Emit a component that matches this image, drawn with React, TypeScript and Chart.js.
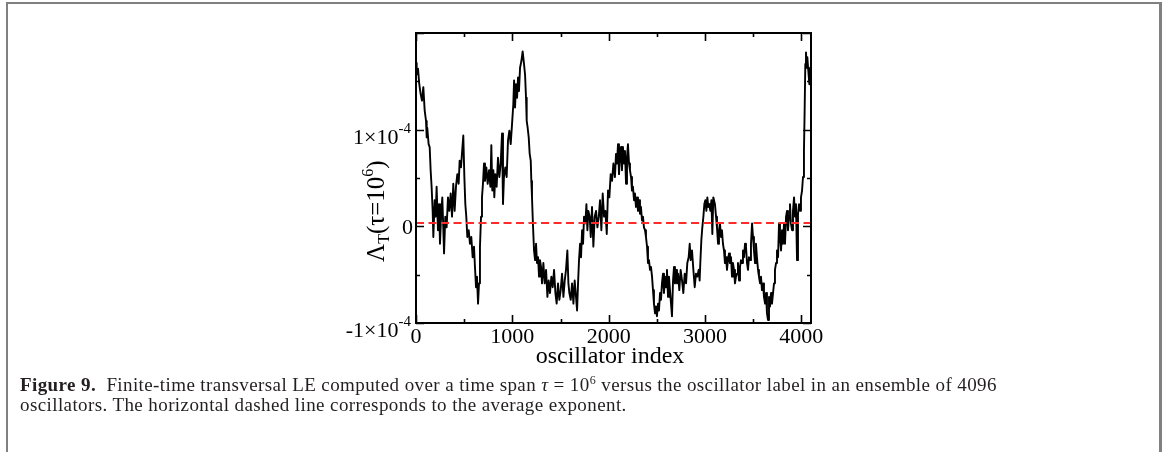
import React, { useEffect, useRef } from "react";
import { Chart, registerables } from "chart.js";

Chart.register(...registerables);

// ---- data ----
// oscillator label (x)
const oscillatorIndex: number[] = [
  0, 7, 21, 34, 48, 62, 76, 90, 104, 111, 117, 131, 142, 152, 162, 173, 180, 194, 204, 214,
  228, 239, 249, 263, 273, 284, 291, 304, 318, 332, 346, 360, 374, 387, 401, 415, 429, 443, 453, 467,
  477, 491, 502, 512, 522, 533, 547, 560, 574, 588, 602, 612, 623, 633, 644, 654, 664, 675, 685, 695,
  706, 716, 730, 744, 758, 772, 782, 792, 803, 813, 823, 837, 851, 865, 879, 893, 903, 913, 927, 941,
  955, 969, 983, 997, 1010,
  1018, 1028, 1038, 1049, 1059, 1069, 1080, 1094, 1107, 1121, 1132, 1142, 1149, 1159, 1170, 1180, 1191, 1197, 1204, 1211,
  1218, 1225, 1236, 1246, 1256, 1267, 1277, 1287, 1298, 1308, 1322, 1336, 1350, 1364, 1377, 1391, 1405, 1419, 1433, 1447,
  1460, 1474, 1488, 1502, 1516, 1530, 1544, 1557, 1571, 1582, 1592, 1606, 1620, 1634, 1647, 1661, 1672, 1682, 1692, 1703,
  1713, 1724, 1734, 1744, 1758, 1769, 1779, 1789, 1803, 1814, 1827, 1841, 1855, 1869, 1883, 1897, 1910, 1924, 1938, 1952,
  1966, 1980, 1993, 2007, 2021, 2035, 2049,
  2065, 2076, 2086, 2097, 2107, 2117, 2128, 2138, 2148, 2159, 2169, 2180, 2190, 2200, 2211, 2221, 2232, 2242, 2252, 2263,
  2273, 2283, 2294, 2304, 2315, 2325, 2335, 2346, 2356, 2366, 2377, 2387, 2398, 2408, 2418, 2429, 2439, 2450, 2460, 2470,
  2481, 2491, 2501, 2512, 2522, 2533, 2543, 2553, 2564, 2574, 2585, 2595, 2605, 2616, 2626, 2636, 2647, 2657, 2668, 2678,
  2688, 2699, 2709, 2720, 2733, 2747, 2761, 2775, 2789, 2803, 2816, 2830, 2841, 2851, 2865, 2879, 2893, 2906, 2920, 2934,
  2944, 2951, 2962, 2972, 2983, 2993, 3003, 3014, 3024, 3034, 3045, 3055, 3066, 3076, 3086,
  3103, 3114, 3124, 3135, 3145, 3155, 3166, 3176, 3186, 3197, 3207, 3218, 3228, 3238, 3249, 3259, 3270, 3280, 3290, 3301,
  3311, 3321, 3332, 3342, 3353, 3363, 3373, 3384, 3394, 3405, 3415, 3425, 3436, 3446, 3456, 3467, 3477, 3488, 3498, 3508,
  3519, 3529, 3539, 3550, 3560, 3571, 3581, 3591, 3602, 3612, 3623, 3633, 3643, 3654, 3664, 3674, 3685, 3695, 3706, 3716,
  3726, 3737, 3747, 3758, 3768, 3778, 3789, 3799, 3809, 3820, 3830, 3841, 3851, 3861, 3872, 3882, 3892, 3903, 3913, 3924,
  3934, 3944, 3955, 3965, 3976, 3986, 3996, 4007, 4017, 4027, 4034, 4041, 4048, 4055, 4062, 4072, 4083, 4090, 4095,
];

// finite-time transversal LE, in units of 1e-5
const lyapunovE5: number[] = [
  16.9, 15.7, 16.3, 14.7, 13.7, 13.0, 14.4, 12.0, 10.9, 9.2, 10.2, 8.5, 8.2, 5.8, 4.1, 1.6, -1.1, 2.7, 1.0, 4.1,
  -0.4, 2.3, -1.8, 1.6, 3.0, -0.4, -2.8, 1.0, -0.1, 3.0, 1.6, 3.4, 1.0, 4.4, 1.6, 4.1, 5.4, 4.4, 6.8, 6.1,
  7.5, 9.4, 5.1, 2.3, 1.0, -1.1, -0.4, -1.8, -1.1, -3.2, -2.1, -4.2, -6.3, -5.2, -8.0, -5.9, -2.1, 1.0, 3.0, 4.4,
  6.5, 4.7, 6.1, 4.4, 5.8, 4.1, 8.4, 3.7, 5.8, 3.0, 5.4, 4.1, 7.1, 5.1, 6.5, 9.6, 2.3, 5.1, 6.1, 5.1,
  8.9, 9.9, 8.5, 10.6, 12.6,
  15.1, 12.3, 14.7, 13.3, 15.4, 14.0, 16.4, 17.1, 18.1, 16.8, 15.7, 13.3, 10.9, 10.2, 9.2, 7.5, 6.8, 4.7, 3.0, 1.0,
  -0.8, -2.5, -3.5, -1.8, -3.8, -3.2, -5.2, -3.5, -4.2, -5.9, -3.8, -5.9, -4.5, -7.3, -5.6, -6.9, -5.2, -6.3, -4.5, -6.9,
  -8.0, -5.9, -7.6, -6.6, -4.9, -7.3, -5.6, -4.5, -2.5, -5.9, -6.9, -7.6, -5.9, -8.0, -5.6, -7.3, -8.7, -5.9, -3.5, -1.8,
  -3.2, -0.4, -1.8, 1.0, 0.3, 2.3, -0.4, 1.6, 1.0, -1.1, 2.0, -2.1, 1.0, 1.6, -0.1, 1.0, 2.7, -0.4, 3.4, 1.0,
  1.6, -0.8, 3.7, 3.0, 5.4, 4.7, 6.5,
  5.1, 7.5, 6.5, 8.5, 5.4, 7.1, 8.2, 5.8, 8.2, 6.5, 7.8, 4.4, 7.1, 8.5, 6.5, 5.8, 5.1, 3.7, 4.1, 2.7,
  3.4, 2.0, 3.0, 1.6, 2.7, 1.3, 2.0, 0.6, 1.0, -0.1, -0.4, -1.1, -2.1, -3.8, -3.5, -4.5, -4.2, -5.2, -6.6, -8.0,
  -9.0, -8.3, -9.3, -8.0, -8.7, -6.9, -7.6, -5.9, -4.9, -6.9, -5.2, -6.3, -4.5, -7.3, -5.2, -6.6, -8.0, -9.3, -5.6, -4.2,
  -5.9, -4.5, -5.9, -4.9, -6.6, -4.5, -5.6, -6.9, -4.9, -5.9, -3.8, -3.2, -1.8, -3.5, -2.5, -4.5, -6.3, -4.9, -5.2, -4.5,
  -5.6, -3.8, -1.4, -0.1, 1.0, 2.3, 2.7, 1.6, 3.0, 2.0, 2.3, 1.6, 2.7, -0.8, 3.0,
  2.3, 1.0, -0.1, -1.8, -0.4, 0.3, -1.1, -0.4, -1.8, -2.5, -3.8, -3.2, -4.5, -3.5, -2.8, -3.8, -3.2, -5.2, -3.8, -4.5,
  -5.9, -5.2, -4.9, -3.8, -5.6, -4.2, -3.5, -3.8, -2.5, -3.2, -1.8, -2.1, -3.8, -4.5, -3.2, -3.5, -1.8, 0.3, -1.1, -2.5,
  -3.8, -1.8, -3.2, -4.5, -5.2, -5.9, -5.2, -6.6, -5.9, -7.3, -8.0, -6.9, -9.0, -9.7, -7.3, -8.3, -6.9, -8.0, -6.9, -5.9,
  -4.5, -3.8, -2.5, -3.2, 0.3, -1.1, -2.5, -0.4, -1.8, 0.3, -1.8, 1.0, 1.6, -0.4, 1.0, 2.3, 0.3, -0.4, 1.6, 3.0,
  1.0, 2.3, -3.5, 1.3, 2.3, 1.6, 3.0, 3.7, 5.1, 7.8, 12.0, 16.8, 18.0, 16.4, 17.5, 16.1, 14.7, 16.4, 15.4,
];

// average exponent (dashed line)
const averageExponent: number[] = [3.4e-6];

// axis ranges and ticks
const xRange: number[] = [0, 4100];
const yRange: number[] = [-1e-4, 2e-4];
const xMajorTicks: number[] = [0, 1000, 2000, 3000, 4000];
const xTickLabels: string[] = ["0", "1000", "2000", "3000", "4000"];
const xMinorTicks: number[] = [500, 1500, 2500, 3500];
const yMajorTicks: number[] = [-1e-4, 0, 1e-4, 2e-4];
const yLabelValues: number[] = [-1e-4, 0, 1e-4];
const yLabelMantissa: string[] = ["-1×10", "0", "1×10"];
const yLabelExponent: string[] = ["-4", "", "-4"];
const yMinorTicks: number[] = [-5e-5, 5e-5, 1.5e-4];

const SERIF = '"Liberation Serif", "Times New Roman", serif';

const frameTicksPlugin = {
  id: "frameTicks",
  afterDatasetsDraw(chart: any) {
    const { ctx, chartArea: a } = chart;
    const xs = chart.scales.x;
    const ys = chart.scales.y;
    ctx.save();
    // frame
    ctx.strokeStyle = "#000";
    ctx.lineWidth = 2;
    ctx.strokeRect(a.left, a.top, a.right - a.left, a.bottom - a.top);
    // ticks (inward, mirrored)
    ctx.lineWidth = 1.6;
    ctx.beginPath();
    const xt = (v: number, len: number) => {
      const p = Math.round(xs.getPixelForValue(v)) + 0.5;
      ctx.moveTo(p, a.bottom);
      ctx.lineTo(p, a.bottom - len);
      ctx.moveTo(p, a.top);
      ctx.lineTo(p, a.top + len);
    };
    const yt = (v: number, len: number) => {
      const p = Math.round(ys.getPixelForValue(v)) + 0.5;
      ctx.moveTo(a.left, p);
      ctx.lineTo(a.left + len, p);
      ctx.moveTo(a.right, p);
      ctx.lineTo(a.right - len, p);
    };
    xMajorTicks.forEach((v) => xt(v, 8));
    xMinorTicks.forEach((v) => xt(v, 4));
    yMajorTicks.forEach((v) => yt(v, 8));
    yMinorTicks.forEach((v) => yt(v, 4));
    ctx.stroke();

    // x tick labels
    ctx.fillStyle = "#000";
    ctx.font = `22px ${SERIF}`;
    ctx.textAlign = "center";
    ctx.textBaseline = "alphabetic";
    xMajorTicks.forEach((v, i) => {
      ctx.fillText(xTickLabels[i], xs.getPixelForValue(v), a.bottom + 20);
    });

    // y tick labels
    const right = a.left - 5;
    yLabelValues.forEach((v, i) => {
      const py = ys.getPixelForValue(v);
      const exp = yLabelExponent[i];
      ctx.textAlign = "right";
      if (exp) {
        ctx.font = `15px ${SERIF}`;
        const ew = ctx.measureText(exp).width;
        const base = py + 14;
        ctx.fillText(exp, right, base - 11);
        ctx.font = `22px ${SERIF}`;
        ctx.fillText(yLabelMantissa[i], right - ew, base);
      } else {
        ctx.font = `22px ${SERIF}`;
        ctx.fillText(yLabelMantissa[i], right + 2, py + 8);
      }
    });

    // x axis title
    ctx.font = `24px ${SERIF}`;
    ctx.textAlign = "center";
    ctx.fillText("oscillator index", 610, 363);

    // y axis title: Λ_T(τ=10^6), rotated
    ctx.translate(384, 262);
    ctx.rotate(-Math.PI / 2);
    ctx.textAlign = "left";
    let cx = 0;
    const part = (t: string, size: number, dy: number) => {
      ctx.font = `${size}px ${SERIF}`;
      ctx.fillText(t, cx, dy);
      cx += ctx.measureText(t).width;
    };
    part("Λ", 25, 0);
    part("T", 16, 5);
    part("(τ=10", 25, 0);
    part("6", 16, -11);
    part(")", 25, 0);
    ctx.restore();
  },
};

export default function App() {
  const canvasRef = useRef<HTMLCanvasElement | null>(null);

  useEffect(() => {
    const canvas = canvasRef.current;
    if (!canvas) return;
    const points = oscillatorIndex.map((x, i) => ({ x, y: lyapunovE5[i] * 1e-5 }));
    const avgLine = [
      { x: xRange[0], y: averageExponent[0] },
      { x: xRange[1], y: averageExponent[0] },
    ];
    const chart = new Chart(canvas, {
      type: "line",
      data: {
        datasets: [
          {
            label: "average",
            data: avgLine,
            borderColor: "#ff2a2a",
            borderWidth: 2,
            borderDash: [8, 4.5],
            pointRadius: 0,
            order: 0,
          },
          {
            label: "Lambda_T",
            data: points,
            borderColor: "#000",
            borderWidth: 1.9,
            borderJoinStyle: "round",
            pointRadius: 0,
            tension: 0,
            order: 1,
          },
        ],
      },
      options: {
        animation: false,
        responsive: false,
        devicePixelRatio: 1,
        events: [],
        layout: { padding: { left: 416, top: 33, right: 354, bottom: 129 } },
        plugins: { legend: { display: false }, tooltip: { enabled: false } },
        scales: {
          x: { type: "linear", min: xRange[0], max: xRange[1], display: false },
          y: { type: "linear", min: yRange[0], max: yRange[1], display: false },
        },
      },
      plugins: [frameTicksPlugin],
    } as any);
    return () => chart.destroy();
  }, []);

  return (
    <div
      style={{
        position: "fixed",
        left: 0,
        top: 0,
        width: 1165,
        height: 452,
        background: "#fff",
        overflow: "hidden",
      }}
    >
      <div
        style={{
          position: "absolute",
          left: 6,
          top: 2,
          width: 1159 - 8,
          height: 500,
          borderLeft: "2px solid #808080",
          borderTop: "2px solid #808080",
          borderRight: "3px solid #808080",
        }}
      />
      <canvas
        ref={canvasRef}
        width={1165}
        height={452}
        style={{ position: "absolute", left: 0, top: 0, width: 1165, height: 452 }}
      />
      <div
        style={{
          position: "absolute",
          left: 20,
          top: 375,
          fontFamily: SERIF,
          fontSize: 19,
          letterSpacing: 0.4,
          lineHeight: "20px",
          color: "#231f20",
          whiteSpace: "nowrap",
        }}
      >
        <b>Figure 9.</b>
        {"\u00a0 Finite-time transversal LE computed over a time span "}
        <i>τ</i>
        {" = 10"}
        <span style={{ fontSize: 12, verticalAlign: 7, lineHeight: 0 }}>6</span>
        {" versus the oscillator label in an ensemble of 4096"}
        <br />
        {"oscillators. The horizontal dashed line corresponds to the average exponent."}
      </div>
    </div>
  );
}
